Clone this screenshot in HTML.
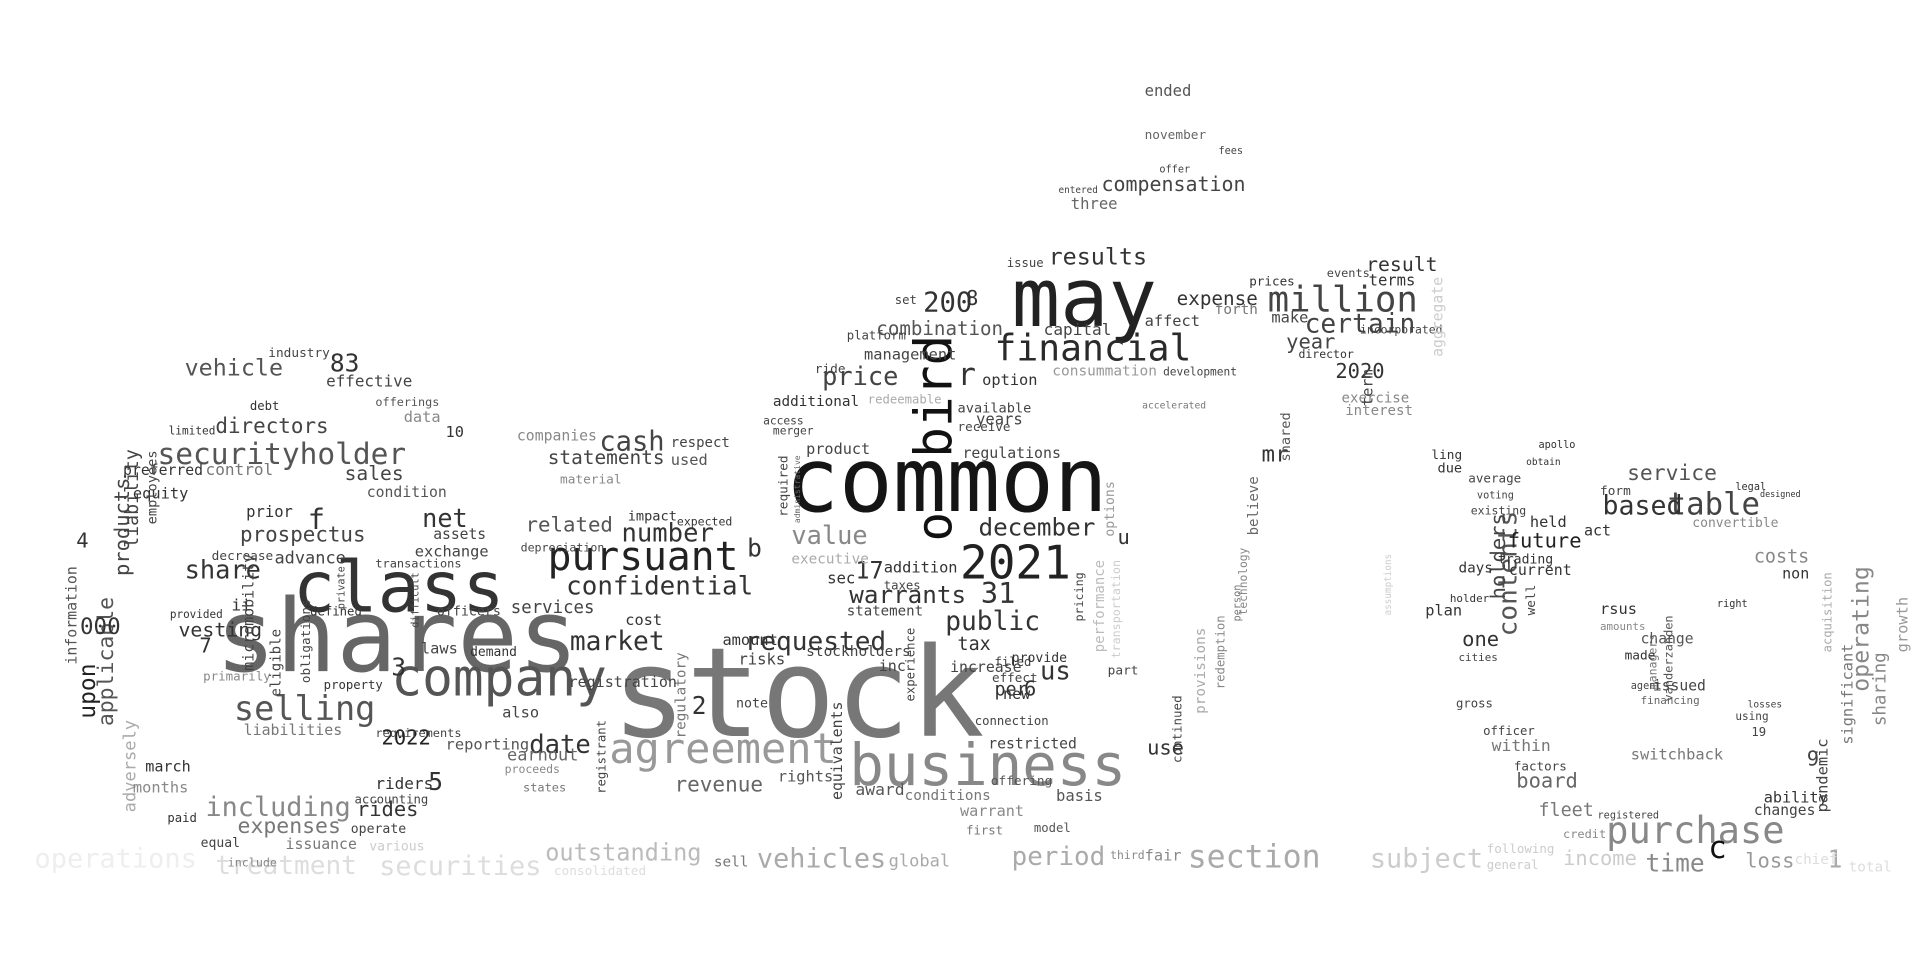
<!DOCTYPE html>
<html><head><meta charset="utf-8"><title>Word cloud</title>
<style>
html,body{margin:0;padding:0;background:#fff;}
svg{display:block;}
text{font-family:"DejaVu Sans Mono","Liberation Mono",monospace;}
</style></head>
<body>
<svg id="cloud" width="1920" height="960" viewBox="0 0 1560 780" xmlns="http://www.w3.org/2000/svg">
<rect width="1560" height="780" fill="#fff"/>
</svg>
<script>
// [text, x, baselineY, width, color, rotated]
const words = [
["stock",497,598,303,"#777",0],
["shares",175,545,295,"#666",0],
["class",238,497,172,"#333",0],
["common",638,415,262,"#151515",0],
["may",822,265,118,"#222",0],
["business",690,638,225,"#888",0],
["company",318,565,175,"#555",0],
["agreement",495,620,185,"#999",0],
["pursuant",445,463,155,"#222",0],
["financial",808,293,160,"#2a2a2a",0],
["2021",780,470,90,"#222",0],
["million",1030,253,122,"#444",0],
["bird",773,372,100,"#111",1],
["o",773,440,24,"#111",1],
["purchase",1305,685,145,"#888",0],
["table",1355,418,75,"#444",0],
["securityholder",128,377,202,"#555",0],
["selling",190,585,115,"#555",0],
["including",167,663,118,"#888",0],
["confidential",460,483,152,"#333",0],
["requested",605,528,115,"#333",0],
["section",965,705,108,"#aaa",0],
["operations",28,705,132,"#eee",0],
["treatment",175,710,115,"#ddd",0],
["securities",308,711,132,"#ddd",0],
["outstanding",443,699,127,"#bbb",0],
["vehicles",615,705,105,"#aaa",0],
["period",822,703,76,"#aaa",0],
["subject",1113,705,92,"#ccc",0],
["income",1270,703,60,"#ccc",0],
["time",1337,708,48,"#888",0],
["loss",1418,705,40,"#999",0],
["1",1485,705,12,"#aaa",0],
["c",1388,697,15,"#111",0],
["warrants",690,490,95,"#333",0],
["public",768,512,77,"#333",0],
["market",463,528,77,"#333",0],
["date",430,612,50,"#333",0],
["share",150,470,62,"#333",0],
["vesting",145,517,68,"#333",0],
["prospectus",195,440,102,"#444",0],
["directors",175,352,92,"#444",0],
["vehicle",150,305,80,"#555",0],
["net",343,428,37,"#333",0],
["83",268,302,24,"#333",0],
["f",250,430,14,"#333",0],
["cash",487,366,53,"#444",0],
["statements",445,377,95,"#444",0],
["results",852,215,80,"#333",0],
["compensation",895,155,117,"#444",0],
["certain",1060,270,90,"#444",0],
["based",1302,418,65,"#333",0],
["contents",1232,517,102,"#555",1],
["operating",1518,562,102,"#888",1],
["sharing",1532,590,60,"#888",1],
["growth",1550,530,45,"#999",1],
["significant",1505,605,82,"#777",1],
["holders",1223,487,70,"#444",1],
["board",1232,640,50,"#666",0],
["fleet",1250,663,45,"#777",0],
["switchback",1325,617,75,"#777",0],
["service",1322,390,73,"#555",0],
["price",668,313,62,"#444",0],
["200",750,253,40,"#333",0],
["number",505,440,75,"#333",0],
["related",427,432,71,"#555",0],
["services",415,498,68,"#444",0],
["revenue",548,643,72,"#666",0],
["december",795,435,95,"#333",0],
["value",643,442,62,"#888",0],
["expenses",193,677,84,"#777",0],
["year",1045,283,40,"#444",0],
["17",695,470,23,"#333",0],
["31",797,490,28,"#333",0],
["products",105,468,80,"#444",1],
["applicable",92,590,105,"#555",1],
["information",62,540,80,"#555",1],
["liability",112,445,80,"#444",1],
["upon",77,584,45,"#222",1],
["adversely",110,660,75,"#aaa",1],
["000",65,515,33,"#333",0],
["4",62,445,10,"#333",0],
["future",1225,445,60,"#222",0],
["expense",956,248,66,"#333",0],
["combination",712,272,103,"#555",0],
["ability",1433,652,52,"#333",0],
["rides",290,663,50,"#333",0],
["2022",310,605,40,"#222",0],
["earnout",412,618,58,"#666",0],
["tax",778,528,27,"#333",0],
["us",845,552,25,"#333",0],
["per",808,565,27,"#333",0],
["costs",1425,457,45,"#888",0],
["restricted",803,608,72,"#444",0],
["use",932,613,30,"#333",0],
["mr",1025,375,22,"#333",0],
["2020",1085,307,40,"#333",0],
["result",1110,220,58,"#333",0],
["ended",930,78,38,"#555",0],
["november",930,113,50,"#666",0],
["three",870,170,38,"#666",0],
["affect",930,265,45,"#444",0],
["capital",848,272,55,"#444",0],
["management",702,292,75,"#444",0],
["additional",628,330,70,"#333",0],
["option",798,313,45,"#333",0],
["regulations",782,372,80,"#444",0],
["product",655,369,52,"#444",0],
["redeemable",705,328,60,"#aaa",0],
["executive",643,458,63,"#aaa",0],
["addition",718,465,60,"#333",0],
["statement",688,500,62,"#444",0],
["stockholders",655,533,85,"#444",0],
["registration",462,558,88,"#444",0],
["cost",508,508,30,"#333",0],
["amount",587,524,45,"#333",0],
["risks",600,540,38,"#444",0],
["note",598,575,26,"#444",0],
["rights",632,635,45,"#555",0],
["award",695,646,40,"#555",0],
["conditions",735,650,70,"#777",0],
["warrant",780,663,52,"#888",0],
["basis",858,651,38,"#555",0],
["model",840,676,30,"#555",0],
["offering",805,638,50,"#555",0],
["connection",792,589,60,"#444",0],
["new",815,568,22,"#333",0],
["increase",772,546,58,"#444",0],
["effect",806,554,37,"#444",0],
["filed",808,541,30,"#444",0],
["inc",714,545,22,"#444",0],
["sec",672,474,23,"#333",0],
["taxes",718,479,30,"#444",0],
["riders",305,641,47,"#333",0],
["accounting",288,653,60,"#444",0],
["march",118,627,37,"#333",0],
["months",108,644,45,"#888",0],
["liabilities",198,597,80,"#777",0],
["reporting",362,609,68,"#555",0],
["laws",342,531,30,"#444",0],
["effective",265,314,70,"#444",0],
["industry",218,290,50,"#444",0],
["offerings",305,330,52,"#555",0],
["data",328,343,30,"#888",0],
["debt",203,333,24,"#333",0],
["limited",137,353,38,"#333",0],
["preferred",100,386,65,"#333",0],
["control",167,386,55,"#777",0],
["sales",280,390,48,"#444",0],
["condition",298,404,65,"#555",0],
["equity",108,405,45,"#333",0],
["prior",200,420,38,"#333",0],
["advance",223,458,58,"#444",0],
["exchange",337,452,60,"#444",0],
["assets",352,438,43,"#444",0],
["transactions",305,461,70,"#444",0],
["decrease",172,455,50,"#444",0],
["provided",138,502,43,"#333",0],
["defined",252,500,42,"#333",0],
["officers",355,500,52,"#444",0],
["primarily",165,553,55,"#888",0],
["requirements",305,599,70,"#444",0],
["also",408,583,30,"#444",0],
["property",263,560,48,"#333",0],
["demand",382,533,38,"#333",0],
["companies",420,358,65,"#888",0],
["material",455,393,50,"#888",0],
["respect",545,363,48,"#444",0],
["used",545,378,30,"#555",0],
["impact",510,423,40,"#333",0],
["expected",550,427,45,"#333",0],
["depreciation",423,448,68,"#444",0],
["issuance",232,690,58,"#777",0],
["include",185,704,40,"#888",0],
["operate",285,677,45,"#444",0],
["paid",136,668,24,"#333",0],
["equal",163,688,32,"#444",0],
["proceeds",410,628,45,"#888",0],
["states",425,643,35,"#777",0],
["within",1212,610,48,"#777",0],
["factors",1230,626,43,"#444",0],
["one",1188,525,30,"#333",0],
["plan",1158,500,30,"#333",0],
["current",1226,467,51,"#333",0],
["trading",1217,458,45,"#333",0],
["held",1243,428,30,"#333",0],
["existing",1195,418,45,"#444",0],
["average",1193,392,43,"#444",0],
["voting",1200,405,30,"#444",0],
["act",1287,435,22,"#333",0],
["convertible",1375,428,70,"#888",0],
["non",1448,470,22,"#333",0],
["change",1333,523,43,"#555",0],
["rsus",1300,499,30,"#333",0],
["issued",1343,561,43,"#444",0],
["financing",1333,572,48,"#666",0],
["changes",1425,662,50,"#444",0],
["registered",1298,665,50,"#444",0],
["credit",1270,681,35,"#888",0],
["exercise",1090,327,55,"#888",0],
["interest",1093,337,55,"#888",0],
["director",1055,291,45,"#333",0],
["terms",1112,232,38,"#333",0],
["prices",1015,232,37,"#333",0],
["events",1078,225,35,"#444",0],
["make",1033,262,30,"#444",0],
["forth",987,255,35,"#777",0],
["incorporated",1105,271,67,"#444",0],
["accelerated",928,332,52,"#777",0],
["development",945,305,60,"#444",0],
["consummation",855,305,85,"#999",0],
["platform",688,276,48,"#444",0],
["ride",662,303,25,"#444",0],
["access",620,345,33,"#444",0],
["merger",628,353,33,"#444",0],
["available",778,335,60,"#444",0],
["receive",778,350,43,"#444",0],
["years",793,345,38,"#444",0],
["set",727,247,18,"#444",0],
["issue",818,217,30,"#444",0],
["fees",990,125,20,"#444",0],
["offer",942,140,25,"#444",0],
["entered",860,157,32,"#444",0],
["9",1468,622,10,"#444",0],
["19",1423,598,12,"#444",0],
["2",562,580,12,"#333",0],
["3",318,549,12,"#333",0],
["5",348,642,12,"#333",0],
["7",162,530,10,"#333",0],
["10",362,355,15,"#333",0],
["8",785,248,10,"#333",0],
["6",832,565,10,"#333",0],
["r",778,313,15,"#333",0],
["b",607,452,12,"#333",0],
["u",908,442,10,"#333",0],
["ii",188,496,16,"#333",0],
["pandemic",1485,660,60,"#444",1],
["acquisition",1488,530,65,"#aaa",1],
["provisions",979,580,70,"#aaa",1],
["redemption",995,560,60,"#888",1],
["believe",1022,435,48,"#666",1],
["shared",1048,375,40,"#555",1],
["person",1008,505,30,"#777",1],
["technology",1013,500,55,"#888",1],
["managers",1346,560,45,"#777",1],
["vanderzanden",1359,570,70,"#555",1],
["regulatory",557,600,70,"#777",1],
["registrant",492,645,60,"#444",1],
["micromobility",206,545,95,"#444",1],
["eligible",228,566,55,"#444",1],
["obligations",252,555,68,"#444",1],
["performance",897,530,75,"#bbb",1],
["transportation",910,535,80,"#ccc",1],
["options",905,436,45,"#999",1],
["required",640,420,50,"#444",1],
["administrative",650,425,55,"#666",1],
["equivalents",684,650,80,"#444",1],
["experience",743,570,60,"#444",1],
["continued",960,620,55,"#444",1],
["term",1115,330,30,"#444",1],
["well",1247,500,25,"#444",1],
["private",280,495,35,"#444",1],
["difficult",340,510,45,"#444",1],
["employees",127,426,60,"#444",1],
["first",785,678,30,"#777",0],
["sell",580,704,28,"#777",0],
["global",722,704,50,"#aaa",0],
["fair",930,699,30,"#888",0],
["third",902,698,28,"#888",0],
["following",1208,693,55,"#ccc",0],
["general",1208,706,42,"#ccc",0],
["chief",1458,702,35,"#ddd",0],
["total",1502,708,35,"#ddd",0],
["consolidated",450,711,75,"#ddd",0],
["various",300,691,45,"#ccc",0],
["provide",822,538,45,"#333",0],
["part",900,548,25,"#444",0],
["pricing",880,505,40,"#444",1],
["days",1185,465,28,"#333",0],
["cities",1185,537,32,"#444",0],
["officer",1205,597,42,"#444",0],
["gross",1183,575,30,"#444",0],
["holder",1178,489,32,"#333",0],
["legal",1410,398,25,"#333",0],
["form",1300,402,25,"#444",0],
["using",1410,585,27,"#444",0],
["ling",1163,373,25,"#333",0],
["due",1168,384,20,"#333",0],
["apollo",1250,364,30,"#333",0],
["obtain",1240,378,28,"#333",0],
["made",1320,536,25,"#333",0],
["agent",1325,560,25,"#444",0],
["amounts",1300,512,37,"#888",0],
["right",1395,493,25,"#333",0],
["losses",1420,575,28,"#444",0],
["designed",1430,404,33,"#333",0],
["assumptions",1130,500,50,"#ccc",1],
["aggregate",1172,290,65,"#ccc",1]
];
const svg = document.getElementById('cloud');
const NS = "http://www.w3.org/2000/svg";
for (const w of words) {
  const [txt, x, y, wid, col, rot] = w;
  const fs = wid / (txt.length * 0.6);
  const t = document.createElementNS(NS, 'text');
  t.setAttribute('x', x);
  t.setAttribute('y', y);
  t.setAttribute('font-size', fs.toFixed(1));
  t.setAttribute('fill', col);
  t.setAttribute('textLength', wid);
  t.setAttribute('lengthAdjust', 'spacingAndGlyphs');
  if (rot) t.setAttribute('transform', 'rotate(-90 ' + x + ' ' + y + ')');
  t.textContent = txt;
  
  
  svg.appendChild(t);
}
</script>
</body></html>
